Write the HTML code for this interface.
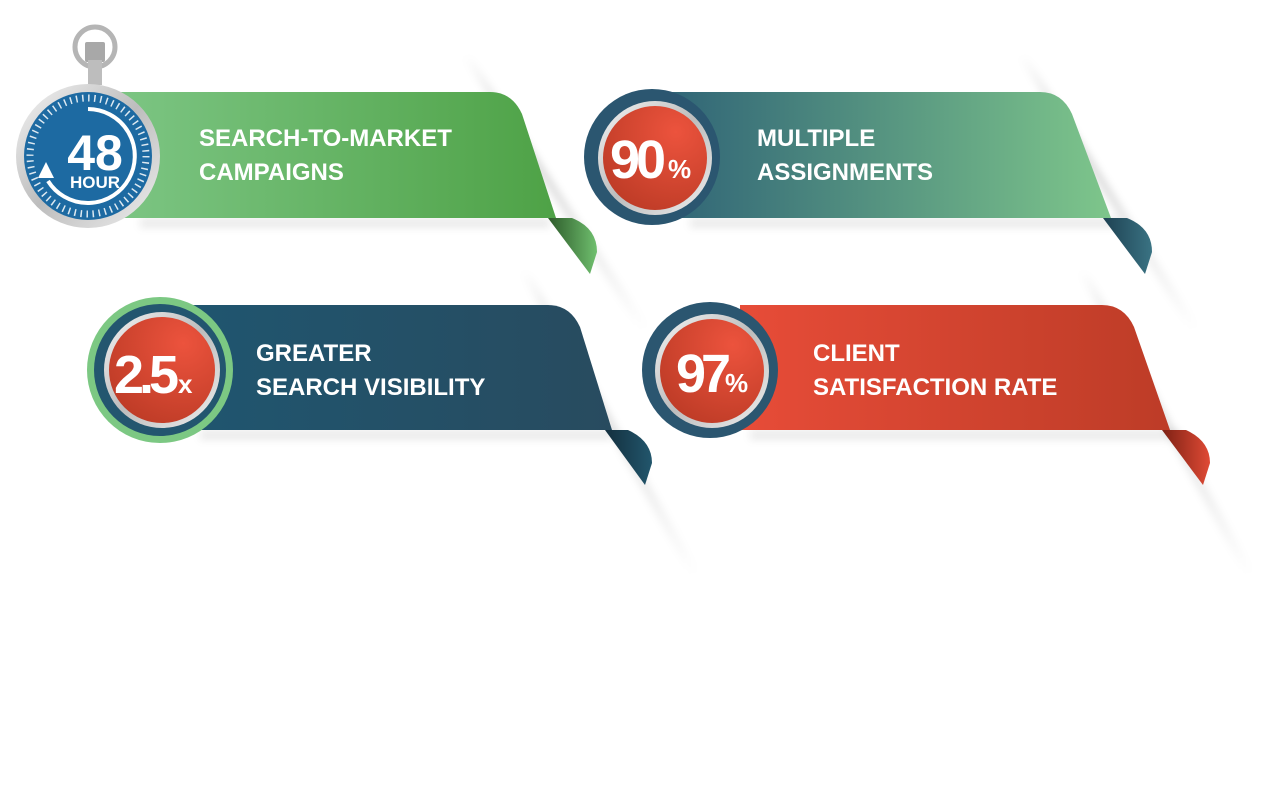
<!DOCTYPE html>
<html><head><meta charset="utf-8"><style>
html,body{margin:0;padding:0;background:#fff;width:1280px;height:800px;overflow:hidden}
svg text{font-family:"Liberation Sans",sans-serif;fill:#fff}
</style></head><body>
<svg width="1280" height="800" viewBox="0 0 1280 800" xmlns="http://www.w3.org/2000/svg">
<defs>
<linearGradient id="g1" x1="0" x2="1"><stop offset="0" stop-color="#7cc583"/><stop offset="1" stop-color="#4ea246"/></linearGradient>
<linearGradient id="g2" x1="0" x2="1"><stop offset="0" stop-color="#2d6176"/><stop offset="1" stop-color="#7ec68b"/></linearGradient>
<linearGradient id="g3" x1="0" x2="1"><stop offset="0" stop-color="#1f5670"/><stop offset="1" stop-color="#284b5f"/></linearGradient>
<linearGradient id="g4" x1="0" x2="1"><stop offset="0" stop-color="#e74c38"/><stop offset="1" stop-color="#bd3c27"/></linearGradient>
<linearGradient id="f1" x1="0" x2="1"><stop offset="0" stop-color="#2d5a2a"/><stop offset="1" stop-color="#6fbf6e"/></linearGradient>
<linearGradient id="f2" x1="0" x2="1"><stop offset="0" stop-color="#1e4152"/><stop offset="1" stop-color="#3a7383"/></linearGradient>
<linearGradient id="f3" x1="0" x2="1"><stop offset="0" stop-color="#132f3e"/><stop offset="1" stop-color="#22566c"/></linearGradient>
<linearGradient id="f4" x1="0" x2="1"><stop offset="0" stop-color="#7d2114"/><stop offset="1" stop-color="#e04a35"/></linearGradient>
<radialGradient id="red" cx="0.7" cy="0.25" r="0.9"><stop offset="0" stop-color="#ec533d"/><stop offset="1" stop-color="#bb3a25"/></radialGradient>
<linearGradient id="silver" x1="0" y1="0" x2="1" y2="1"><stop offset="0" stop-color="#f4f4f4"/><stop offset="0.5" stop-color="#bdbdbd"/><stop offset="1" stop-color="#efefef"/></linearGradient>
<filter id="bl" x="-50%" y="-50%" width="200%" height="200%"><feGaussianBlur stdDeviation="4"/></filter>
<linearGradient id="sh" x1="0" y1="0" x2="0" y2="1"><stop offset="0" stop-color="#000" stop-opacity="0"/><stop offset="0.3" stop-color="#000" stop-opacity="0.18"/><stop offset="1" stop-color="#000" stop-opacity="0"/></linearGradient>
</defs>

<g filter="url(#bl)">
<polygon points="462,55 470,55 650,330 640,330" fill="url(#sh)"/>
<polygon points="1018,55 1026,55 1200,330 1190,330" fill="url(#sh)"/>
<polygon points="520,270 528,270 700,575 690,575" fill="url(#sh)"/>
<polygon points="1078,270 1086,270 1255,575 1245,575" fill="url(#sh)"/>
<rect x="140" y="218" width="410" height="10" fill="#000" opacity="0.08"/>
<rect x="690" y="218" width="430" height="10" fill="#000" opacity="0.08"/>
<rect x="200" y="430" width="410" height="10" fill="#000" opacity="0.08"/>
<rect x="750" y="430" width="430" height="10" fill="#000" opacity="0.08"/>
</g>

<g transform="translate(0,92)">
<path d="M548,126 L572,126 Q597,136 597,160 L590,182 Z" fill="url(#f1)"/>
<path d="M120,0 H490 Q512,0 522,22 L556,126 H120 Z" fill="url(#g1)"/>
</g>
<g transform="translate(0,92)">
<path d="M1103,126 L1127,126 Q1152,136 1152,160 L1145,182 Z" fill="url(#f2)"/>
<path d="M650,0 H1040 Q1062,0 1072,22 L1111,126 H650 Z" fill="url(#g2)"/>
</g>
<g transform="translate(0,305)">
<path d="M605,125 L628,125 Q652,136 652,158 L645,180 Z" fill="url(#f3)"/>
<path d="M170,0 H548 Q570,0 580,22 L612,125 H170 Z" fill="url(#g3)"/>
</g>
<g transform="translate(0,305)">
<path d="M1162,125 L1186,125 Q1210,136 1210,158 L1203,180 Z" fill="url(#f4)"/>
<path d="M740,0 H1102 Q1124,0 1134,22 L1170,125 H740 Z" fill="url(#g4)"/>
</g>

<!-- clock -->
<circle cx="95" cy="47" r="20" fill="none" stroke="#b5b5b5" stroke-width="5"/>
<rect x="85" y="42" width="20" height="20" rx="2" fill="#a8a8a8"/>
<rect x="88" y="60" width="14" height="25" fill="#bdbdbd"/>
<circle cx="88" cy="156" r="72" fill="url(#silver)"/>
<circle cx="88" cy="156" r="64" fill="#1d6aa2"/>
<circle cx="88" cy="156" r="58" fill="none" stroke="#fff" stroke-dasharray="1.5 4.57" stroke-width="7" opacity="0.85"/>
<path d="M88,109 A47,47 0 1 1 48,181" fill="none" stroke="#fff" stroke-width="4"/>
<polygon points="38,178 54,178 46,162" fill="#fff"/>
<text x="95" y="170" font-size="50" font-weight="bold" text-anchor="middle">48</text>
<text x="95" y="188" font-size="17" font-weight="bold" text-anchor="middle">HOUR</text>

<!-- 90% -->
<circle cx="652" cy="157" r="68" fill="#2b5670"/>
<circle cx="655" cy="158" r="57" fill="url(#silver)"/>
<circle cx="655" cy="158" r="52" fill="url(#red)"/>
<text x="610" y="178" font-size="54" font-weight="bold" letter-spacing="-4">90</text><text x="668" y="178" font-size="26" font-weight="bold">%</text>

<!-- 2.5x -->
<circle cx="160" cy="370" r="73" fill="#7cc883"/>
<circle cx="160" cy="370" r="66" fill="#23566f"/>
<circle cx="162" cy="370" r="58" fill="url(#silver)"/>
<circle cx="162" cy="370" r="53" fill="url(#red)"/>
<text x="114" y="393" font-size="54" font-weight="bold" letter-spacing="-5">2.5</text><text x="178" y="393" font-size="26" font-weight="bold">x</text>

<!-- 97% -->
<circle cx="710" cy="370" r="68" fill="#2b5670"/>
<circle cx="712" cy="371" r="57" fill="url(#silver)"/>
<circle cx="712" cy="371" r="52" fill="url(#red)"/>
<text x="676" y="392" font-size="54" font-weight="bold" letter-spacing="-5">97</text><text x="725" y="392" font-size="26" font-weight="bold">%</text>

<g font-size="24" font-weight="bold">
<text x="199" y="146">SEARCH-TO-MARKET</text>
<text x="199" y="180">CAMPAIGNS</text>
<text x="757" y="146">MULTIPLE</text>
<text x="757" y="180">ASSIGNMENTS</text>
<text x="256" y="361">GREATER</text>
<text x="256" y="395">SEARCH VISIBILITY</text>
<text x="813" y="361">CLIENT</text>
<text x="813" y="395">SATISFACTION RATE</text>
</g>
</svg>
</body></html>
